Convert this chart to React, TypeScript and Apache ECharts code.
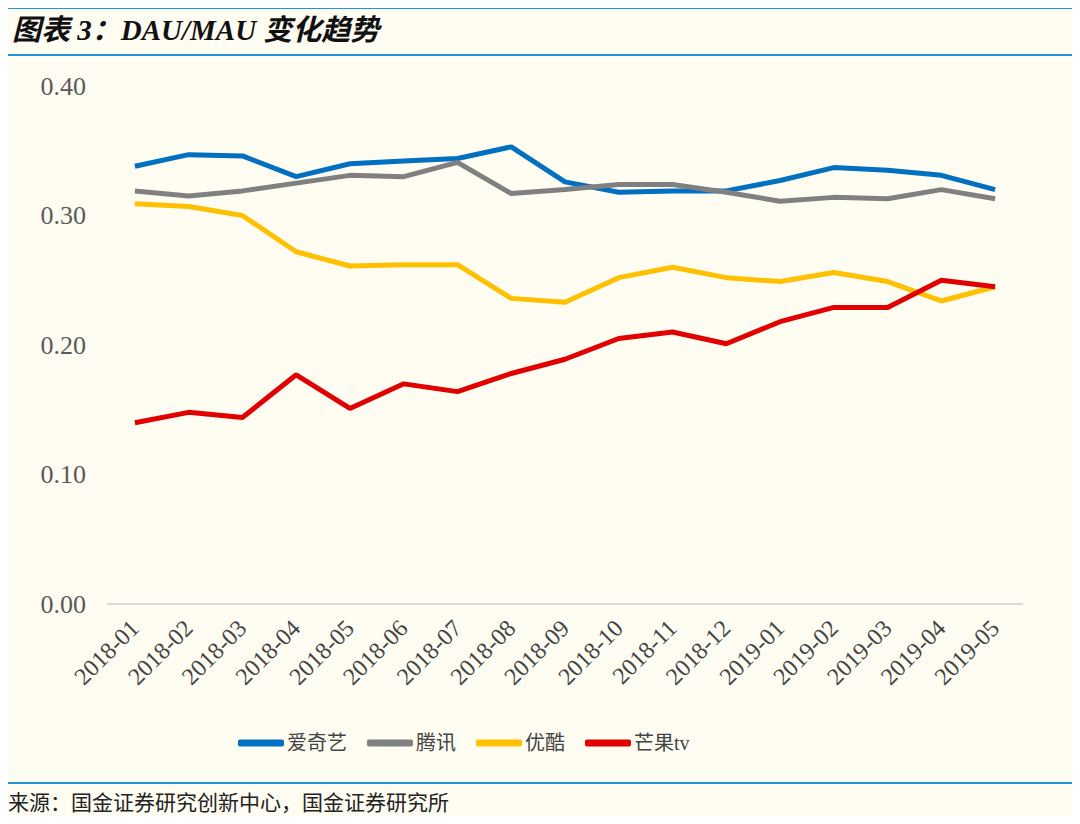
import React, { useEffect, useRef } from "react";
import * as echarts from "echarts";

const categories = [
  "2018-01", "2018-02", "2018-03", "2018-04", "2018-05", "2018-06", "2018-07", "2018-08", "2018-09",
  "2018-10", "2018-11", "2018-12", "2019-01", "2019-02", "2019-03", "2019-04", "2019-05",
];
const iqiyi = [0.338, 0.347, 0.346, 0.330, 0.340, 0.342, 0.344, 0.353, 0.326, 0.318, 0.319, 0.319, 0.327, 0.337, 0.335, 0.331, 0.320];
const tencent = [0.319, 0.315, 0.319, 0.325, 0.331, 0.330, 0.341, 0.317, 0.320, 0.324, 0.324, 0.318, 0.311, 0.314, 0.313, 0.320, 0.313];
const youku = [0.309, 0.307, 0.300, 0.272, 0.261, 0.262, 0.262, 0.236, 0.233, 0.252, 0.260, 0.252, 0.249, 0.256, 0.249, 0.234, 0.245];
const mango = [0.140, 0.148, 0.144, 0.177, 0.151, 0.170, 0.164, 0.178, 0.189, 0.205, 0.210, 0.201, 0.218, 0.229, 0.229, 0.250, 0.245];
const seriesNames = ["爱奇艺", "腾讯", "优酷", "芒果tv"];
const colors = ["#0070c0", "#808080", "#ffc000", "#e00000"];

const serif = "'Liberation Serif', 'Noto Sans CJK SC', serif";
const cjk = "'Liberation Serif', 'Noto Sans CJK SC', serif";

export default function App() {
  const ref = useRef<HTMLDivElement>(null);
  useEffect(() => {
    const chart = echarts.init(ref.current!, null, { renderer: "svg" });
    const data = [iqiyi, tencent, youku, mango];
    chart.setOption({
      animation: false,
      backgroundColor: "#fffcf2",
      color: colors,
      grid: { left: 108, right: 58, top: 86, bottom: 220, containLabel: false },
      graphic: [
        { type: "line", shape: { x1: 6, y1: 8, x2: 1080, y2: 8 }, style: { stroke: "#2196d3", lineWidth: 2 } },
        { type: "line", shape: { x1: 6, y1: 55, x2: 1080, y2: 55 }, style: { stroke: "#2196d3", lineWidth: 2 } },
        { type: "line", shape: { x1: 6, y1: 783, x2: 1080, y2: 783 }, style: { stroke: "#2196d3", lineWidth: 2 } },
        {
          type: "text", left: 12, top: 15,
          style: { text: "图表 3：DAU/MAU 变化趋势", font: `italic bold 29px ${serif}`, fill: "#111" },
        },
        {
          type: "text", left: 8, top: 792,
          style: { text: "来源：国金证券研究创新中心，国金证券研究所", font: `21px ${cjk}`, fill: "#222" },
        },
      ],
      legend: {
        left: 233, top: 728, itemWidth: 46, itemHeight: 7, itemGap: 20, icon: "roundRect",
        textStyle: { fontFamily: cjk, fontSize: 20, color: "#444", padding: [0, 0, 0, -2] },
        data: seriesNames,
      },
      xAxis: {
        type: "category", data: categories, boundaryGap: true,
        axisLine: { lineStyle: { color: "#d9d9d6", width: 2 } },
        axisTick: { show: false },
        axisLabel: { rotate: 45, fontFamily: serif, fontSize: 24, color: "#444", margin: 20, interval: 0 },
      },
      yAxis: {
        type: "value", min: 0, max: 0.4, interval: 0.1,
        splitLine: { show: false }, axisLine: { show: false }, axisTick: { show: false },
        axisLabel: { formatter: (v: number) => v.toFixed(2), fontFamily: serif, fontSize: 26, color: "#595959", margin: 22 },
      },
      series: seriesNames.map((n, i) => ({
        name: n, type: "line", data: data[i], symbol: "none",
        lineStyle: { width: 5, color: colors[i] }, itemStyle: { color: colors[i] },
      })),
    });
    return () => chart.dispose();
  }, []);
  return <div ref={ref} style={{ width: 1080, height: 824, margin: -8 }} />;
}
